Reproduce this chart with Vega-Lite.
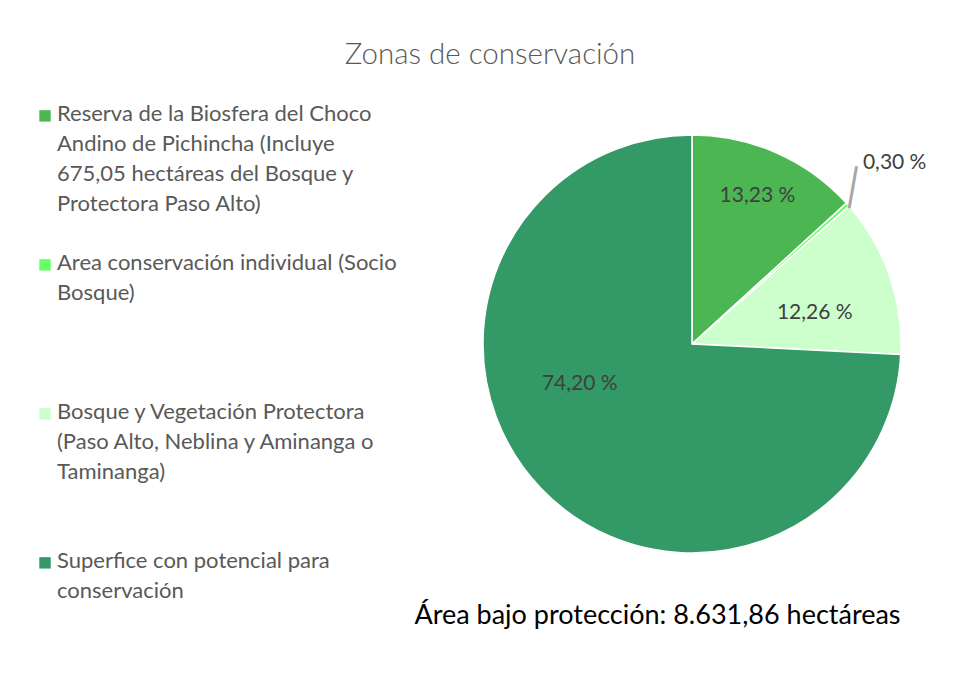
{
  "$schema": "https://vega.github.io/schema/vega-lite/v6.json",
  "width": 418,
  "height": 418,
  "autosize": {"type": "none"},
  "padding": {"left": 483, "top": 135, "right": 54, "bottom": 138},
  "background": "white",
  "title": {
    "text": "Zonas de conservación",
    "anchor": "middle",
    "dx": -202,
    "offset": 14,
    "font": "Lato",
    "fontSize": 29.5,
    "fontWeight": 300,
    "color": "#595959"
  },
  "config": {
    "view": {"stroke": null},
    "style": {"guide-label": {"lineHeight": 30}}
  },
  "data": {
    "values": [
      {"zona": "Reserva de la Biosfera del  Choco\nAndino de Pichincha (Incluye\n675,05 hectáreas del Bosque y\nProtectora Paso Alto)", "pct": 13.23, "etiqueta": "13,23 %", "orden": 1},
      {"zona": "Area conservación individual (Socio\nBosque)", "pct": 0.30, "etiqueta": "0,30 %", "orden": 2},
      {"zona": "Bosque y Vegetación Protectora\n(Paso Alto, Neblina y Aminanga o\nTaminanga)", "pct": 12.26, "etiqueta": "12,26 %", "orden": 3},
      {"zona": "Superfice con potencial para\nconservación", "pct": 74.20, "etiqueta": "74,20 %", "orden": 4}
    ]
  },
  "layer": [
    {
      "mark": {"type": "arc", "outerRadius": 209, "stroke": "white", "strokeWidth": 1.5},
      "encoding": {
        "theta": {"field": "pct", "type": "quantitative", "stack": true},
        "order": {"field": "orden", "type": "quantitative"},
        "x": {
          "datum": "centro",
          "type": "nominal",
          "axis": {
            "labels": false,
            "ticks": false,
            "domain": false,
            "title": "Área bajo protección: 8.631,86 hectáreas",
            "titleFont": "Lato",
            "titleFontSize": 27,
            "titleFontWeight": "normal",
            "titleColor": "#000000",
            "titlePadding": 49,
            "titleX": 174
          }
        },
        "color": {
          "field": "zona",
          "type": "nominal",
          "sort": {"field": "orden"},
          "scale": {"range": ["#4CB752", "#66FF66", "#CCFFCC", "#339966"]},
          "legend": {
            "orient": "none",
            "legendX": -449,
            "legendY": -25,
            "title": null,
            "symbolType": "M-1,-1.9H1V0.1H-1Z",
            "symbolSize": 130,
            "symbolStrokeWidth": 0,
            "labelFont": "Lato",
            "labelFontSize": 22,
            "labelColor": "#595959",
            "labelBaseline": "alphabetic",
            "labelOffset": 1,
            "labelLimit": 500,
            "labelExpr": "split(datum.label, '\\n')",
            "gridAlign": "all",
            "rowPadding": 37
          }
        }
      }
    },
    {
      "mark": {"type": "text", "radius": 162, "font": "Lato", "fontSize": 21, "color": "#404040"},
      "encoding": {
        "theta": {"field": "pct", "type": "quantitative", "stack": true},
        "order": {"field": "orden", "type": "quantitative"},
        "text": {"condition": {"test": "datum.orden == 1", "field": "etiqueta"}, "value": ""}
      }
    },
    {
      "mark": {"type": "text", "radius": 130, "dy": 12, "font": "Lato", "fontSize": 21, "color": "#404040"},
      "encoding": {
        "theta": {"field": "pct", "type": "quantitative", "stack": true},
        "order": {"field": "orden", "type": "quantitative"},
        "text": {"condition": {"test": "datum.orden == 3", "field": "etiqueta"}, "value": ""}
      }
    },
    {
      "mark": {"type": "text", "radius": 119, "dx": -26, "dy": -42, "font": "Lato", "fontSize": 21, "color": "#404040"},
      "encoding": {
        "theta": {"field": "pct", "type": "quantitative", "stack": true},
        "order": {"field": "orden", "type": "quantitative"},
        "text": {"condition": {"test": "datum.orden == 4", "field": "etiqueta"}, "value": ""}
      }
    },
    {
      "mark": {"type": "text", "radius": 272, "font": "Lato", "fontSize": 21, "color": "#404040"},
      "encoding": {
        "theta": {"field": "pct", "type": "quantitative", "stack": true},
        "order": {"field": "orden", "type": "quantitative"},
        "text": {"condition": {"test": "datum.orden == 2", "field": "etiqueta"}, "value": ""}
      }
    },
    {
      "mark": {"type": "text", "radius": 225, "dx": -8, "dy": -4, "angle": 10, "font": "DejaVu Sans Mono", "fontSize": 36, "color": "#A6A6A6"},
      "encoding": {
        "theta": {"field": "pct", "type": "quantitative", "stack": true},
        "order": {"field": "orden", "type": "quantitative"},
        "text": {"condition": {"test": "datum.orden == 2", "value": "│"}, "value": ""}
      }
    }
  ]
}
